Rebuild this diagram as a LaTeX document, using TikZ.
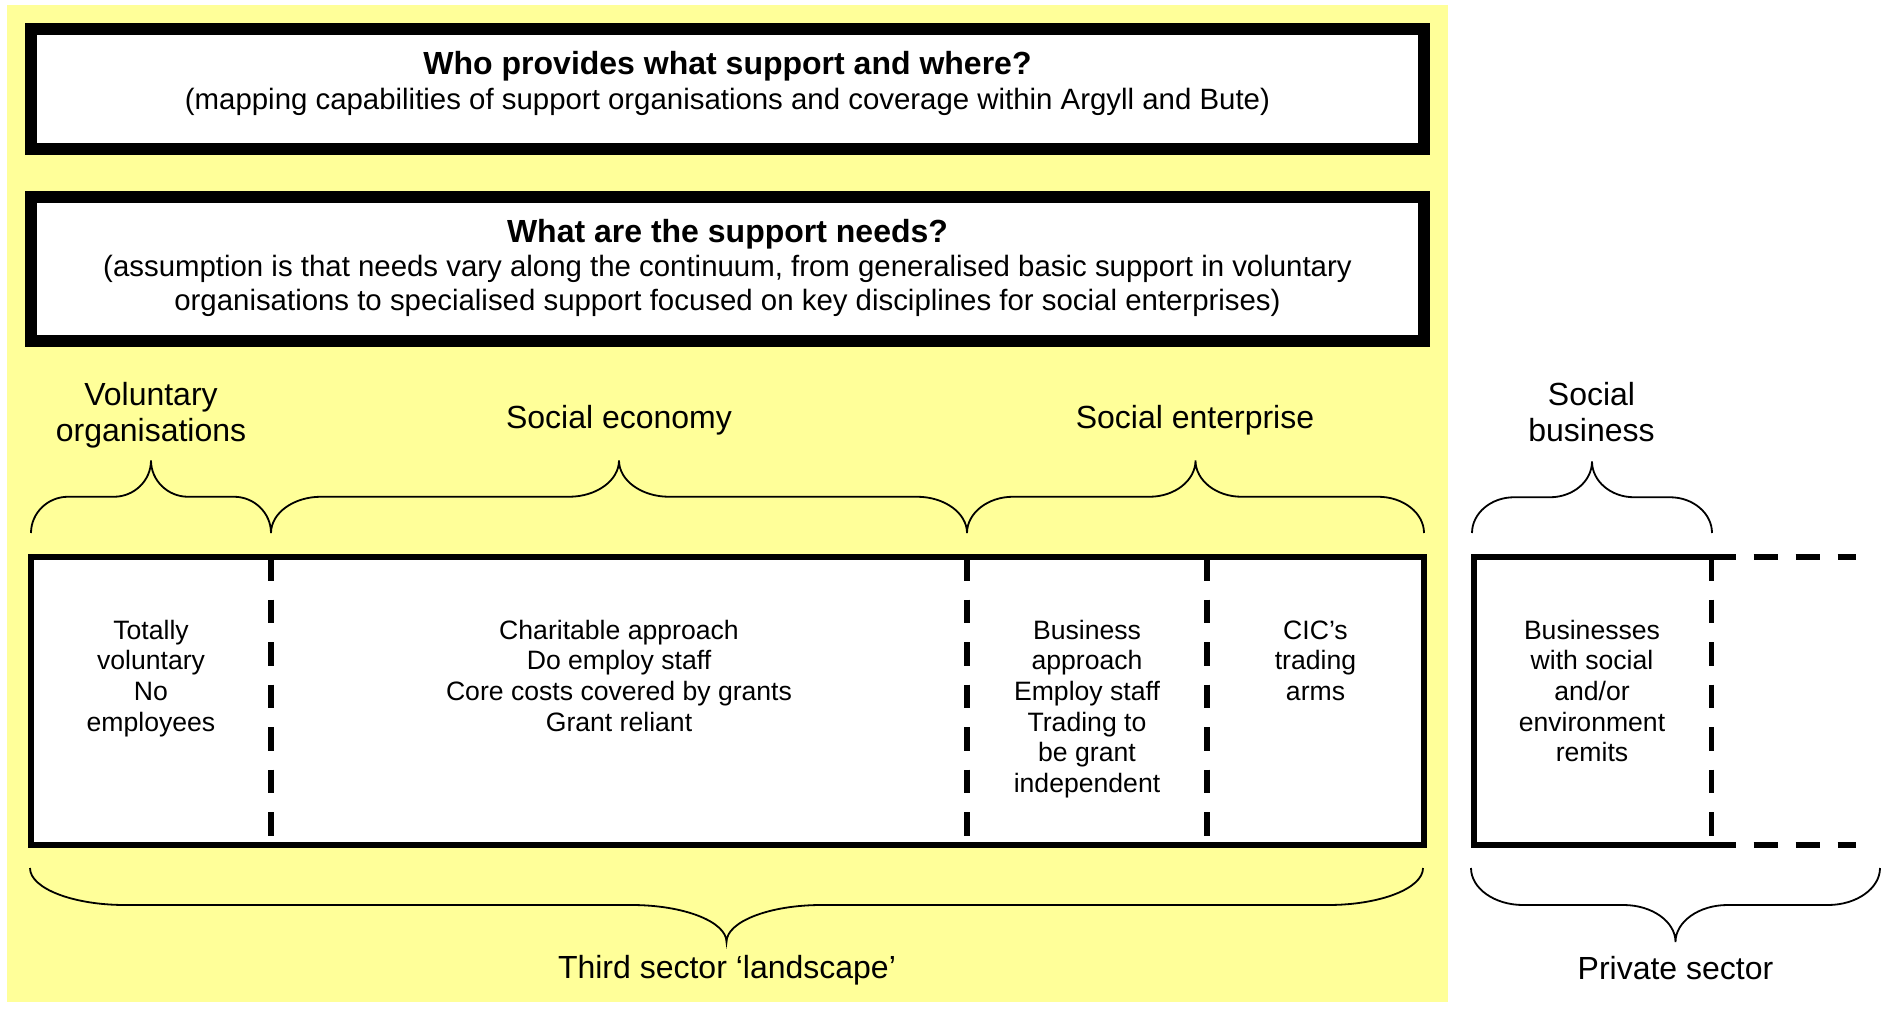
\documentclass[tikz,border=0pt]{standalone}
\usepackage{fontspec}
\setmainfont{Liberation Sans}
\definecolor{bgyellow}{HTML}{FFFF99}
\newcommand{\stk}[1]{\begin{tabular}[t]{@{}c@{}}#1\end{tabular}}
\newcommand{\fsTitle}{\fontsize{32}{36.8}\selectfont\bfseries}
\newcommand{\fsSub}{\fontsize{29.4}{33.6}\selectfont}
\newcommand{\fsLabel}{\fontsize{32}{36.8}\selectfont}
\newcommand{\fsInner}{\fontsize{26.6}{30.7}\selectfont}
% brace: #1 x left, #2 x right, #3 y of ends, #4 y of tip, #5 horizontal curve size
\newcommand{\drawbrace}[5]{%
  \pgfmathsetmacro{\brDY}{(#3-#4)/2}%
  \pgfmathsetmacro{\brCX}{(#1+#2)/2}%
  \pgfmathsetmacro{\brYF}{(#3+#4)/2}%
  \pgfmathsetmacro{\brKX}{0.55*#5}%
  \pgfmathsetmacro{\brNKX}{-0.55*#5}%
  \pgfmathsetmacro{\brKY}{0.55*\brDY}%
  \pgfmathsetmacro{\brNKY}{-0.55*\brDY}%
  \draw[bracestyle] (#1,#3) .. controls +(0,\brNKY) and +(\brNKX,0) .. (#1+#5,\brYF)
    -- (\brCX-#5,\brYF) .. controls +(\brKX,0) and +(0,\brKY) .. (\brCX,#4)
    .. controls +(0,\brKY) and +(\brNKX,0) .. (\brCX+#5,\brYF)
    -- (#2-#5,\brYF) .. controls +(\brKX,0) and +(0,\brNKY) .. (#2,#3);
}
\begin{document}
\begin{tikzpicture}[x=1pt,y=-1pt,
  hdrbox/.style={draw, line width=12pt, fill=white, inner sep=0pt},
  mainbox/.style={draw, line width=6pt, fill=white, inner sep=0pt},
  txt/.style={inner sep=0pt, outer sep=0pt, anchor=base},
  divider/.style={line width=5.5pt, dash pattern=on 23.5pt off 19pt},
  hdash/.style={line width=5.5pt, dash pattern=on 24pt off 18pt},
  solidedge/.style={line width=6pt},
  bracestyle/.style={line width=1.8pt},
]
\useasboundingbox (0,0) rectangle (1898,1011);
\fill[bgyellow] (6.5,5) rectangle (1448,1002);

% header boxes
\node[hdrbox, minimum width=1392.4pt, minimum height=120pt] (box1) at (727.4,89.2) {};
\node[hdrbox, minimum width=1392.4pt, minimum height=143.6pt] (box2) at (727.4,269) {};
\node[txt, font=\fsTitle] (title1) at (727.5,75) {Who provides what support and where?};
\node[txt, font=\fsSub] (sub1) at (727.5,109.5) {(mapping capabilities of support organisations and coverage within Argyll and Bute)};
\node[txt, font=\fsTitle] (title2) at (727.5,242.5) {What are the support needs?};
\node[txt, font=\fsSub] (sub2) at (727.5,276.5) {\stk{(assumption is that needs vary along the continuum, from generalised basic support in voluntary\\organisations to specialised support focused on key disciplines for social enterprises)}};

% main continuum box
\node[mainbox, minimum width=1393pt, minimum height=288pt] (main) at (727.5,701) {};
\coordinate (v1t) at (271,557);    \coordinate (v1b) at (271,845);
\coordinate (v2t) at (967,557);    \coordinate (v2b) at (967,845);
\coordinate (v3t) at (1207,557);   \coordinate (v3b) at (1207,845);
\draw[divider] (v1t) -- (v1b);
\draw[divider] (v2t) -- (v2b);
\draw[divider] (v3t) -- (v3b);

% social business box
\coordinate (sbtl) at (1473.5,557); \coordinate (sbbl) at (1473.5,845);
\coordinate (sbtr) at (1711.5,557); \coordinate (sbbr) at (1711.5,845);
\coordinate (sbte) at (1856,557);   \coordinate (sbbe) at (1856,845);
\draw[solidedge] (sbtr) -- (sbtl) -- (sbbl) -- (sbbr);
\draw[hdash] (sbtr) -- (sbte);
\draw[hdash] (sbbr) -- (sbbe);
\draw[divider] (sbtr) -- (sbbr);

% inner texts
\node[txt, font=\fsInner] (c1) at (151,639) {\stk{Totally\\voluntary\\No\\employees}};
\node[txt, font=\fsInner] (c2) at (619,639) {\stk{Charitable approach\\Do employ staff\\Core costs covered by grants\\Grant reliant}};
\node[txt, font=\fsInner] (c3) at (1087,639) {\stk{Business\\approach\\Employ staff\\Trading to\\be grant\\independent}};
\node[txt, font=\fsInner] (c4) at (1315.5,639) {\stk{CIC’s\\trading\\arms}};
\node[txt, font=\fsInner] (c5) at (1592,639) {\stk{Businesses\\with social\\and/or\\environment\\remits}};

% top labels
\node[txt, font=\fsLabel] (l1) at (151,405) {\stk{Voluntary\\organisations}};
\node[txt, font=\fsLabel] (l2) at (619,428.5) {Social economy};
\node[txt, font=\fsLabel] (l3) at (1195,428.5) {Social enterprise};
\node[txt, font=\fsLabel] (l4) at (1591.5,405) {\stk{Social\\business}};

% bottom labels
\node[txt, font=\fsLabel] (b1) at (727,978) {Third sector ‘landscape’};
\node[txt, font=\fsLabel] (b2) at (1675.5,979.5) {Private sector};

% braces
\drawbrace{31}{271}{533}{460.5}{37}
\drawbrace{271}{967}{533}{460.5}{50}
\drawbrace{967}{1424}{533}{460.5}{46}
\drawbrace{1472}{1712}{533}{461.5}{42}
\drawbrace{30}{1423}{868}{942}{95}
\drawbrace{1471}{1880}{868}{942}{52}
\end{tikzpicture}
\end{document}
